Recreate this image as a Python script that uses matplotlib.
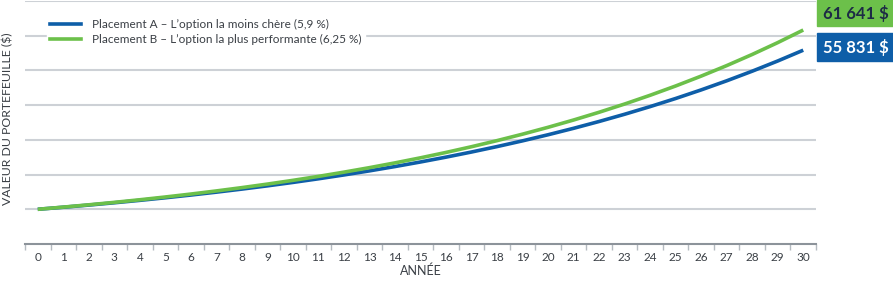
import matplotlib.pyplot as plt
import matplotlib.patches as mpatches
from matplotlib.lines import Line2D

plt.rcParams['font.family'] = ['Lato', 'DejaVu Sans']

years = list(range(31))
placement_a = [10000, 10590, 11215, 11877, 12577, 13319, 14105, 14937, 15819, 16752,
               17740, 18787, 19895, 21069, 22312, 23629, 25023, 26499, 28063, 29718,
               31472, 33328, 35295, 37377, 39582, 41918, 44391, 47010, 49783, 52721,
               55831]
placement_b = [10000, 10625, 11289, 11995, 12744, 13541, 14387, 15286, 16242, 17257,
               18335, 19481, 20699, 21993, 23367, 24828, 26379, 28028, 29780, 31641,
               33619, 35720, 37952, 40324, 42845, 45522, 48367, 51390, 54602, 58015,
               61641]
label_a = 'Placement A – L’option la moins chère (5,9 %)'
label_b = 'Placement B – L’option la plus performante (6,25 %)'

blue = '#0e5ea8'
green = '#6cc04a'
grid_c = '#cdd1d6'
axis_c = '#8c939a'
text_c = '#3a3f45'

W, H = 893, 283
fig = plt.figure(figsize=(W / 100, H / 100), dpi=100)
ax = fig.add_axes([25 / W, 39 / H, (816 - 25) / W, (244 - 1) / H])

for y in range(10000, 70001, 10000):
    ax.axhline(y, color=grid_c, lw=1.5, zorder=1)

ax.plot(years, placement_a, color=blue, lw=2.6, zorder=3, solid_capstyle='butt')
ax.plot(years, placement_b, color=green, lw=2.6, zorder=4, solid_capstyle='butt')

ax.set_xlim(-0.5, 30.5)
ax.set_ylim(0, 70000)

for s in ['top', 'right', 'left']:
    ax.spines[s].set_visible(False)
ax.spines['bottom'].set_color(axis_c)
ax.spines['bottom'].set_linewidth(1.5)

# ticks between the years, labels centred on each year
ax.set_yticks([])
ax.set_xticks([x - 0.5 for x in range(32)])
ax.set_xticklabels([])
ax.tick_params(axis='x', length=4, width=1, color='#b5bbc1')
ax.set_xticks(years, minor=True)
ax.set_xticklabels([str(y) for y in years], minor=True)
ax.tick_params(axis='x', which='minor', length=0, pad=6, labelsize=8.5, labelcolor=text_c)

ax.set_xlabel('ANNÉE', fontsize=9, color=text_c, labelpad=1)
fig.text(8 / W, 1 - 119 / H, 'VALEUR DU PORTEFEUILLE ($)', rotation=90,
         ha='center', va='center', fontsize=8.8, color=text_c)

handles = [Line2D([], [], color=blue, lw=2.6), Line2D([], [], color=green, lw=2.6)]
leg = ax.legend(handles, [label_a, label_b], loc='upper left',
                bbox_to_anchor=(16 / (816 - 25), 1 - 9 / 243), frameon=True,
                fontsize=8.5, handlelength=2.6, handletextpad=0.9, labelspacing=0.3,
                borderpad=0.3, fancybox=False)
leg.get_frame().set_edgecolor('white')
leg.get_frame().set_facecolor('white')
leg.get_frame().set_alpha(1)
leg.set_zorder(5)
for t in leg.get_texts():
    t.set_color(text_c)


def money(v):
    return f'{v:,}'.replace(',', ' ') + ' $'


fig.patches.append(mpatches.Rectangle((817 / W, 1 - 26 / H), 76 / W, 26 / H,
                                      transform=fig.transFigure, color=green, zorder=5))
fig.text(856 / W, 1 - 13 / H, money(placement_b[-1]), ha='center', va='center',
         fontsize=12, fontweight='bold', color='#1d2b45', zorder=6)
fig.patches.append(mpatches.Rectangle((817 / W, 1 - 61 / H), 76 / W, 28 / H,
                                      transform=fig.transFigure, color=blue, zorder=5))
fig.text(856 / W, 1 - 47 / H, money(placement_a[-1]), ha='center', va='center',
         fontsize=12, fontweight='bold', color='white', zorder=6)

fig.savefig('out.png', dpi=100)
